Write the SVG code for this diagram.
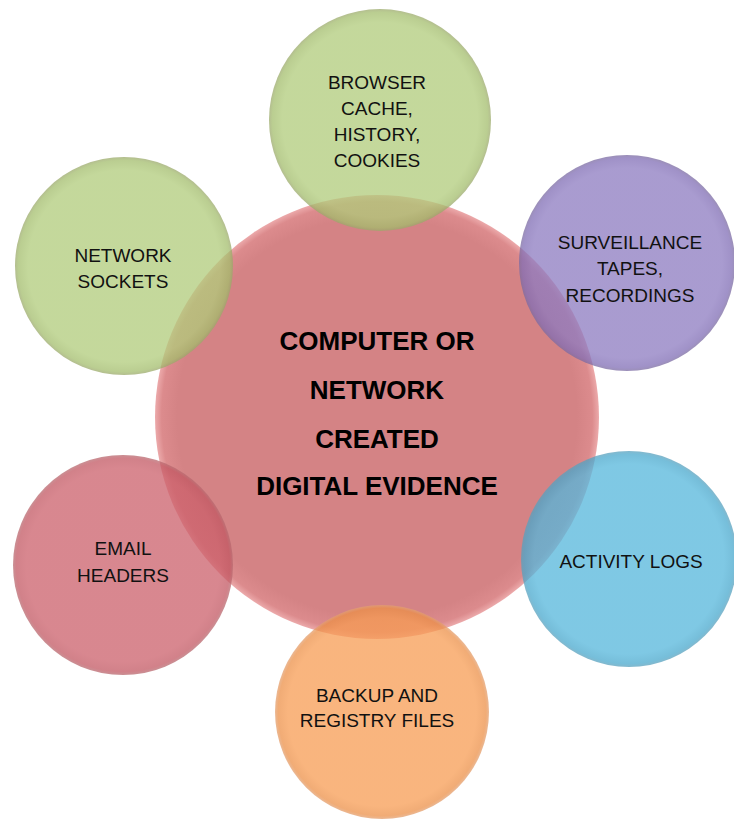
<svg xmlns="http://www.w3.org/2000/svg" width="734" height="820" viewBox="0 0 734 820">
<defs>
<radialGradient id="gRed" cx="50%" cy="50%" r="50%">
<stop offset="0" stop-color="#d48385"/>
<stop offset="0.9" stop-color="#d48385"/>
<stop offset="0.97" stop-color="#dc8b8d"/>
<stop offset="1" stop-color="#ecaaab"/>
</radialGradient>
<radialGradient id="gGreen" cx="50%" cy="50%" r="50%">
<stop offset="0" stop-color="#b0cb7a"/>
<stop offset="0.88" stop-color="#b0cb7a"/>
<stop offset="0.97" stop-color="#a3bd6c"/>
<stop offset="1" stop-color="#9aa86a"/>
</radialGradient>
<radialGradient id="gPurple" cx="50%" cy="50%" r="50%">
<stop offset="0" stop-color="#8c7ac0"/>
<stop offset="0.88" stop-color="#8c7ac0"/>
<stop offset="0.97" stop-color="#806db5"/>
<stop offset="1" stop-color="#7a6aa0"/>
</radialGradient>
<radialGradient id="gRed2" cx="50%" cy="50%" r="50%">
<stop offset="0" stop-color="#cb5f6a"/>
<stop offset="0.88" stop-color="#cb5f6a"/>
<stop offset="0.97" stop-color="#c25762"/>
<stop offset="1" stop-color="#b86a70"/>
</radialGradient>
<radialGradient id="gBlue" cx="50%" cy="50%" r="50%">
<stop offset="0" stop-color="#54b6db"/>
<stop offset="0.88" stop-color="#54b6db"/>
<stop offset="0.97" stop-color="#48a8cd"/>
<stop offset="1" stop-color="#5aa0bc"/>
</radialGradient>
<radialGradient id="gOrange" cx="50%" cy="50%" r="50%">
<stop offset="0" stop-color="#f79c53"/>
<stop offset="0.88" stop-color="#f79c53"/>
<stop offset="0.97" stop-color="#ec9048"/>
<stop offset="1" stop-color="#e3a070"/>
</radialGradient>
</defs>
<style>
.sat{fill-opacity:0.75;}
.lbl{font-family:"Liberation Sans",Arial,sans-serif;font-size:19px;fill:#111;text-anchor:middle;}
.main{font-family:"Liberation Sans",Arial,sans-serif;font-size:26px;font-weight:bold;fill:#000;text-anchor:middle;}
</style>
<rect width="734" height="820" fill="#ffffff"/>
<g id="center">
<circle cx="377" cy="417" r="222" fill="url(#gRed)"/>
</g>
<g id="browser">
<circle class="sat" cx="380" cy="120" r="111" fill="url(#gGreen)"/>
<text class="lbl" x="377" y="89">BROWSER</text>
<text class="lbl" x="377" y="115">CACHE,</text>
<text class="lbl" x="377" y="141">HISTORY,</text>
<text class="lbl" x="377" y="167">COOKIES</text>
</g>
<g id="surveillance">
<circle class="sat" cx="627" cy="263" r="108" fill="url(#gPurple)"/>
<text class="lbl" x="630" y="249">SURVEILLANCE</text>
<text class="lbl" x="630" y="275">TAPES,</text>
<text class="lbl" x="630" y="302">RECORDINGS</text>
</g>
<g id="sockets">
<circle class="sat" cx="124" cy="266" r="109" fill="url(#gGreen)"/>
<text class="lbl" x="123" y="262">NETWORK</text>
<text class="lbl" x="123" y="288">SOCKETS</text>
</g>
<g id="email">
<circle class="sat" cx="123" cy="565" r="110" fill="url(#gRed2)"/>
<text class="lbl" x="123" y="555">EMAIL</text>
<text class="lbl" x="123" y="582">HEADERS</text>
</g>
<g id="activity">
<circle class="sat" cx="629" cy="559" r="108" fill="url(#gBlue)"/>
<text class="lbl" x="631" y="568">ACTIVITY LOGS</text>
</g>
<g id="backup">
<circle class="sat" cx="382" cy="712" r="107" fill="url(#gOrange)"/>
<text class="lbl" x="377" y="702">BACKUP AND</text>
<text class="lbl" x="377" y="727">REGISTRY FILES</text>
</g>
<g id="centertext">
<text class="main" x="377" y="350">COMPUTER OR</text>
<text class="main" x="377" y="399">NETWORK</text>
<text class="main" x="377" y="448">CREATED</text>
<text class="main" x="377" y="495">DIGITAL EVIDENCE</text>
</g>
<g id="connectors"></g>
</svg>
